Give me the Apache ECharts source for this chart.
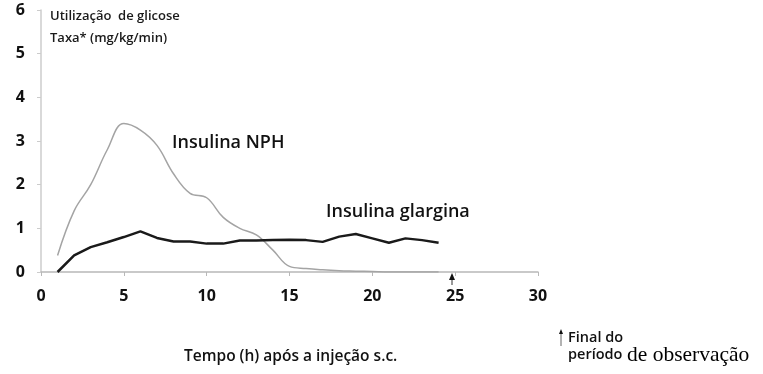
<!DOCTYPE html>
<html><head><meta charset="utf-8">
<script src="https://cdn.jsdelivr.net/npm/echarts@6/dist/echarts.min.js"></script>
<style>html,body{margin:0;padding:0;background:#fff}#c{width:763px;height:374px}</style>
</head><body><div id="c"></div>
<script>
const hours = [1,2,3,4,5,6,7,8,9,10,11,12,13,14,15,16,17,18,19,20,21,22,23,24];
const nph = [0.38,1.4,2.0,2.8,3.4,3.25,2.9,2.25,1.8,1.7,1.25,1.0,0.85,0.5,0.13,0.08,0.05,0.03,0.02,0.01,0.0,0.0,0.0,0.0];
const glargina = [0,0.38,0.57,0.68,0.8,0.93,0.78,0.7,0.7,0.65,0.65,0.72,0.72,0.73,0.74,0.73,0.69,0.81,0.87,0.77,0.67,0.77,0.73,0.67];
const xTicks = [0,5,10,15,20,25,30];
const yTicks = [0,1,2,3,4,5,6];

const chart = echarts.init(document.getElementById('c'), null, {renderer:'canvas'});
const font = '"Open Sans", "Liberation Sans", sans-serif';
chart.setOption({
  animation:false,
  grid:{left:41,right:225,top:10,bottom:102,containLabel:false},
  xAxis:{type:'value',min:xTicks[0],max:xTicks[xTicks.length-1],interval:5,
    axisLine:{lineStyle:{color:'#b8b8b8',width:1.5}},
    axisTick:{show:true,length:4,lineStyle:{color:'#b8b8b8'}},
    splitLine:{show:false},
    axisLabel:{margin:16,fontSize:16,fontWeight:'bold',color:'#111',fontFamily:font}},
  yAxis:{type:'value',min:yTicks[0],max:yTicks[yTicks.length-1],interval:1,
    axisLine:{show:true,lineStyle:{color:'#cccccc',width:1.5}},
    axisTick:{show:true,length:4,lineStyle:{color:'#cccccc'}},
    splitLine:{show:false},
    axisLabel:{margin:16,fontSize:16,fontWeight:'bold',color:'#111',fontFamily:font}},
  series:[
    {type:'line',name:'Insulina NPH',data:hours.map((h,i)=>[h,nph[i]]),smooth:0.4,showSymbol:false,
     lineStyle:{color:'#a4a4a4',width:1.5},z:2},
    {type:'line',name:'Insulina glargina',data:hours.map((h,i)=>[h,glargina[i]]),showSymbol:false,
     lineStyle:{color:'#1a1a1a',width:2.5},z:3}
  ],
  graphic:[
    {type:'text',left:50,top:10,style:{text:'Utilização  de glicose',font:'600 13px '+font,fill:'#1a1a1a'}},
    {type:'text',left:50,top:32,style:{text:'Taxa* (mg/kg/min)',font:'600 13px '+font,fill:'#1a1a1a'}},
    {type:'text',left:172,top:134,style:{text:'Insulina NPH',font:'600 18px '+font,fill:'#111'}},
    {type:'text',left:326,top:203,style:{text:'Insulina glargina',font:'600 18px '+font,fill:'#111'}},
    {type:'text',left:184,top:349,style:{text:'Tempo (h) após a injeção s.c.',font:'600 15.5px '+font,fill:'#111'}},
    {type:'line',shape:{x1:452,y1:285,x2:452,y2:277},style:{stroke:'#333',lineWidth:1}},
    {type:'polygon',shape:{points:[[449,280],[455,280],[452,273]]},style:{fill:'#111'}},
    {type:'line',shape:{x1:561,y1:346,x2:561,y2:333},style:{stroke:'#666',lineWidth:1}},
    {type:'polygon',shape:{points:[[559,334],[563,334],[561,329]]},style:{fill:'#111'}},
    {type:'text',left:568,top:330,style:{text:'Final do',font:'600 14.5px '+font,fill:'#111'}},
    {type:'text',left:568,top:347,style:{text:'período',font:'600 14.5px '+font,fill:'#111'}},
    {type:'text',left:627,top:344,style:{text:'de observação',font:'21.5px "Liberation Serif", serif',fill:'#000'}}
  ]
});
</script></body></html>
